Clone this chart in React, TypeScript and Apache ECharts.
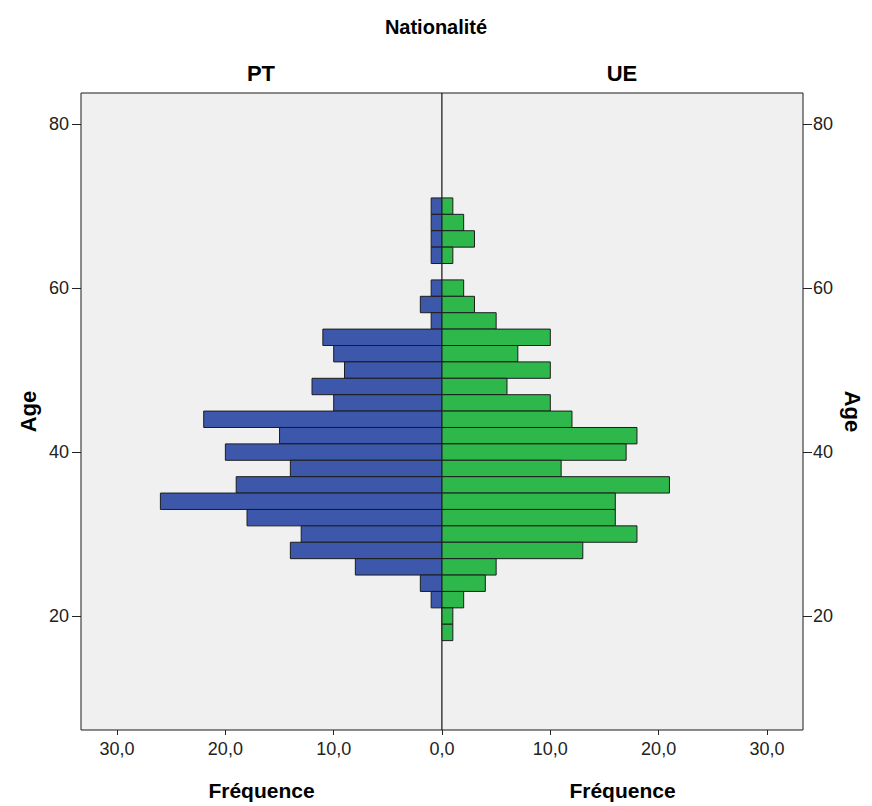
import React, { useEffect, useRef } from "react";
import * as echarts from "echarts";

const ageBins = [70, 68, 66, 64, 62, 60, 58, 56, 54, 52, 50, 48, 46, 44, 42, 40, 38, 36, 34, 32, 30, 28, 26, 24, 22, 20, 18];
const ptCounts = [1, 1, 1, 1, 0, 1, 2, 1, 11, 10, 9, 12, 10, 22, 15, 20, 14, 19, 26, 18, 13, 14, 8, 2, 1, 0, 0];
const ueCounts = [1, 2, 3, 1, 0, 2, 3, 5, 10, 7, 10, 6, 10, 12, 18, 17, 11, 21, 16, 16, 18, 13, 5, 4, 2, 1, 1];
const ageTicks = [20, 40, 60, 80];
const freqTicksLeft = [0, 10, 20, 30];
const freqTicksRight = [10, 20, 30];
const groups = ["PT", "UE"];

const FONT = "'Liberation Sans', Arial, sans-serif";
const NARROW = "'Liberation Sans Narrow', 'Arial Narrow', 'Liberation Sans', sans-serif";

function makeRender(fill: string) {
  return (params: any, api: any) => {
    const v = api.value(0);
    const age = api.value(1);
    if (!v) return null;
    const p0 = api.coord([0, age - 1]);
    const p1 = api.coord([v, age + 1]);
    return {
      type: "rect",
      shape: {
        x: Math.min(p0[0], p1[0]),
        y: Math.min(p0[1], p1[1]),
        width: Math.abs(p1[0] - p0[0]),
        height: Math.abs(p1[1] - p0[1]),
      },
      style: { fill, stroke: "#1c1c1c", lineWidth: 1 },
    };
  };
}

const fmt = (v: number) => v.toFixed(1).replace(".", ",");

export default function App() {
  const ref = useRef<HTMLDivElement>(null);
  useEffect(() => {
    if (!ref.current) return;
    const chart = echarts.init(ref.current, undefined, { renderer: "svg" });
    const yMin = 6.1;
    const yMax = 83.8;
    const xMax = 33.33;
    const axisLabelStyle = { color: "#222", fontFamily: NARROW, fontSize: 18 };
    const nameStyle = { color: "#000", fontFamily: FONT, fontSize: 21, fontWeight: "bold" as const };
    const tickStyle = { color: "#222", width: 1 };
    chart.setOption({
      animation: false,
      backgroundColor: "#fff",
      title: {
        text: "Nationalité",
        left: "center",
        top: 12,
        textStyle: { fontFamily: FONT, fontSize: 20, fontWeight: "bold", color: "#000" },
      },
      graphic: [
        { type: "text", x: 261, y: 73, style: { text: groups[0], fontFamily: FONT, fontSize: 22, fontWeight: "bold", fill: "#000", align: "center", verticalAlign: "middle" } },
        { type: "text", x: 622, y: 73, style: { text: groups[1], fontFamily: FONT, fontSize: 22, fontWeight: "bold", fill: "#000", align: "center", verticalAlign: "middle" } },
      ],
      grid: [
        { left: 81, top: 93, width: 361, height: 638, show: true, backgroundColor: "#f0f0f0", borderColor: "#1a1a1a", borderWidth: 1 },
        { left: 442, top: 93, width: 361, height: 638, show: true, backgroundColor: "#f0f0f0", borderColor: "#1a1a1a", borderWidth: 1 },
      ],
      xAxis: [
        {
          type: "value", gridIndex: 0, min: 0, max: xMax, inverse: true,
          name: "Fréquence", nameLocation: "middle", nameGap: 50, nameTextStyle: nameStyle,
          axisLine: { show: false, onZero: false }, splitLine: { show: false },
          axisTick: { show: true, length: 5, customValues: freqTicksLeft, lineStyle: tickStyle },
          axisLabel: { customValues: freqTicksLeft, formatter: fmt, margin: 10, ...axisLabelStyle },
        },
        {
          type: "value", gridIndex: 1, min: 0, max: xMax,
          name: "Fréquence", nameLocation: "middle", nameGap: 50, nameTextStyle: nameStyle,
          axisLine: { show: false, onZero: false }, splitLine: { show: false },
          axisTick: { show: true, length: 5, customValues: freqTicksRight, lineStyle: tickStyle },
          axisLabel: { customValues: freqTicksRight, formatter: fmt, margin: 10, ...axisLabelStyle },
        },
      ],
      yAxis: [
        {
          type: "value", gridIndex: 0, min: yMin, max: yMax, position: "left",
          name: "Age", nameLocation: "middle", nameGap: 42, nameRotate: 90, nameTextStyle: { ...nameStyle, fontSize: 22 },
          axisLine: { show: false, onZero: false }, splitLine: { show: false },
          axisTick: { show: true, length: 9, customValues: ageTicks, lineStyle: tickStyle },
          axisLabel: { customValues: ageTicks, margin: 12, ...axisLabelStyle },
        },
        {
          type: "value", gridIndex: 1, min: yMin, max: yMax, position: "right",
          name: "Age", nameLocation: "middle", nameGap: 38, nameRotate: -90, nameTextStyle: { ...nameStyle, fontSize: 22 },
          axisLine: { show: false, onZero: false }, splitLine: { show: false },
          axisTick: { show: true, length: 9, customValues: ageTicks, lineStyle: tickStyle },
          axisLabel: { customValues: ageTicks, margin: 10, ...axisLabelStyle },
        },
      ],
      series: [
        {
          type: "custom", name: groups[0], xAxisIndex: 0, yAxisIndex: 0,
          encode: { x: 0, y: 1 },
          renderItem: makeRender("#3d58ab"),
          data: ptCounts.map((c, i) => [c, ageBins[i]]),
        },
        {
          type: "custom", name: groups[1], xAxisIndex: 1, yAxisIndex: 1,
          encode: { x: 0, y: 1 },
          renderItem: makeRender("#2eb84b"),
          data: ueCounts.map((c, i) => [c, ageBins[i]]),
        },
      ],
    });
    return () => chart.dispose();
  }, []);
  return <div ref={ref} style={{ position: "fixed", left: 0, top: 0, width: 872, height: 806 }} />;
}
